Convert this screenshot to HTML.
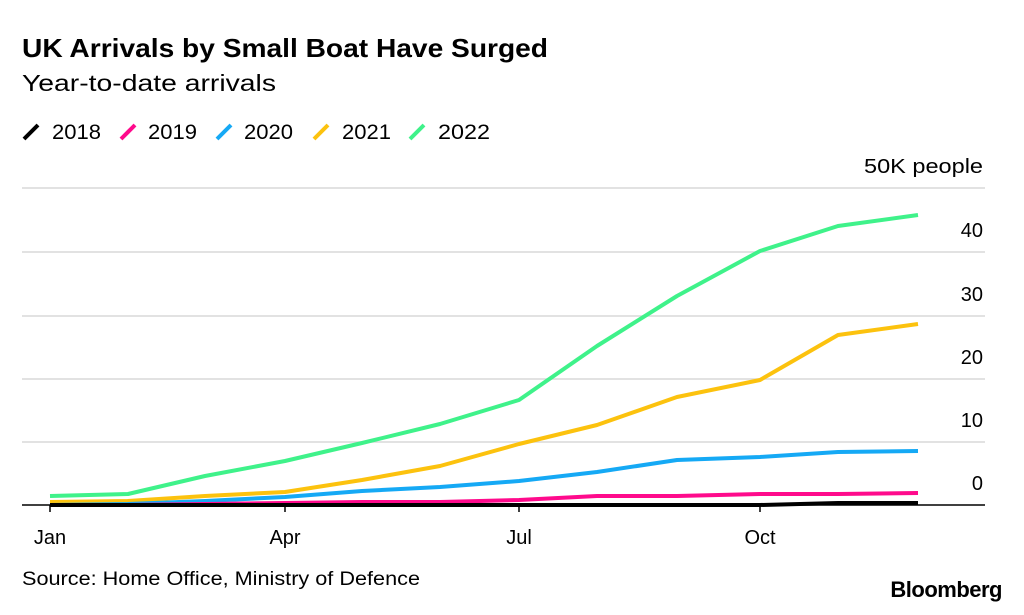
<!DOCTYPE html>
<html><head><meta charset="utf-8"><style>
body{margin:0;width:1024px;height:610px;background:#fff;font-family:"Liberation Sans",sans-serif;overflow:hidden}
</style></head><body>
<svg width="1024" height="610" xmlns="http://www.w3.org/2000/svg" font-family="Liberation Sans, sans-serif">
<text x="22" y="57" font-size="26" font-weight="bold" fill="#000" textLength="526" lengthAdjust="spacingAndGlyphs">UK Arrivals by Small Boat Have Surged</text>
<text x="22" y="91" font-size="23" fill="#000" textLength="254" lengthAdjust="spacingAndGlyphs">Year-to-date arrivals</text>
<g font-size="21" fill="#000">
<line x1="24" y1="139" x2="38" y2="125" stroke="#000" stroke-width="4"/><text x="52" y="139" textLength="49" lengthAdjust="spacingAndGlyphs">2018</text>
<line x1="121" y1="139" x2="135" y2="125" stroke="#ff0a8c" stroke-width="4"/><text x="148" y="139" textLength="49" lengthAdjust="spacingAndGlyphs">2019</text>
<line x1="217" y1="139" x2="231" y2="125" stroke="#15a9f5" stroke-width="4"/><text x="244" y="139" textLength="49" lengthAdjust="spacingAndGlyphs">2020</text>
<line x1="314" y1="139" x2="328" y2="125" stroke="#fcc20e" stroke-width="4"/><text x="342" y="139" textLength="49" lengthAdjust="spacingAndGlyphs">2021</text>
<line x1="410" y1="139" x2="424" y2="125" stroke="#3ff28a" stroke-width="4"/><text x="438" y="139" textLength="52" lengthAdjust="spacingAndGlyphs">2022</text>
</g>
<g stroke="#d9d9d9" stroke-width="1.5">
<line x1="22" y1="188" x2="985" y2="188"/><line x1="22" y1="252" x2="985" y2="252"/>
<line x1="22" y1="316" x2="985" y2="316"/><line x1="22" y1="379" x2="985" y2="379"/>
<line x1="22" y1="442" x2="985" y2="442"/>
</g>
<g font-size="20" fill="#000" text-anchor="end">
<text x="983" y="173" textLength="119" lengthAdjust="spacingAndGlyphs">50K people</text><text x="983" y="237">40</text><text x="983" y="301">30</text>
<text x="983" y="364">20</text><text x="983" y="427">10</text><text x="983" y="490">0</text>
</g>
<g fill="none" stroke-width="4" stroke-linejoin="round">
<polyline stroke="#3ff28a" points="50,496 128,494 205,476 285,461 362,443 440,424 519,400 597,346 677,296 760,251 838,226 918,215"/>
<polyline stroke="#fcc20e" points="50,502 128,501 205,496 285,492 362,480 440,466 519,444 597,425 677,397 760,380 838,335 918,324"/>
<polyline stroke="#15a9f5" points="50,505 128,504 205,501 285,497 362,491 440,487 519,481 597,472 677,460 760,457 838,452 918,451"/>
<polyline stroke="#ff0a8c" points="50,505 128,505 205,504 285,503 362,502 440,502 519,500 597,496 677,496 760,494 838,494 918,493"/>
<polyline stroke="#000" points="50,505 760,505 838,503 918,503"/>
</g>
<line x1="22" y1="505" x2="985" y2="505" stroke="#000" stroke-width="1.5"/>
<g stroke="#000" stroke-width="1.5"><line x1="50" y1="505" x2="50" y2="512"/><line x1="285" y1="505" x2="285" y2="512"/><line x1="519" y1="505" x2="519" y2="512"/><line x1="760" y1="505" x2="760" y2="512"/></g>
<g font-size="20" fill="#000" text-anchor="middle">
<text x="50" y="544">Jan</text><text x="285" y="544">Apr</text><text x="519" y="544">Jul</text><text x="760" y="544">Oct</text>
</g>
<text x="22" y="585" font-size="19" fill="#000" textLength="398" lengthAdjust="spacingAndGlyphs">Source: Home Office, Ministry of Defence</text>
<text x="1002" y="597" font-size="22" font-weight="bold" fill="#000" text-anchor="end" letter-spacing="-0.5">Bloomberg</text>
</svg>
</body></html>
